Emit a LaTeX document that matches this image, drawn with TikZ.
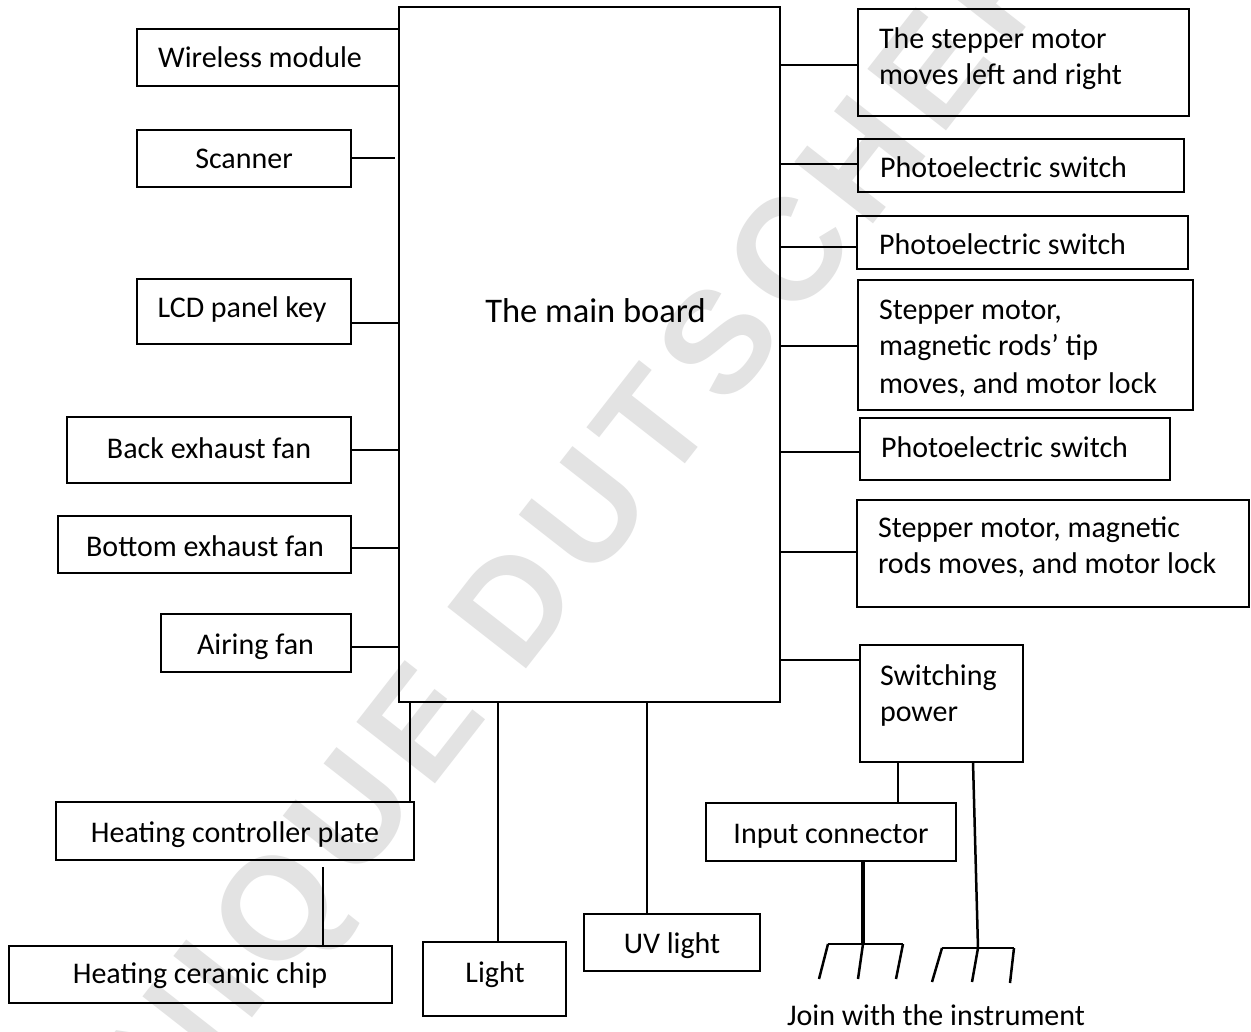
\documentclass[tikz,border=0pt]{standalone}
\usepackage{fontspec}
\setmainfont{Carlito}
\newfontfamily\wmfont{Liberation Sans}[LetterSpace=9]
\definecolor{wmgray}{RGB}{227,227,227}
\begin{document}
\begin{tikzpicture}[x=1pt,y=-1pt,
  box/.style={draw, line width=2.7pt, inner sep=0pt, outer sep=0pt, anchor=north west},
  conn/.style={line width=2.5pt},
  lbl/.style={font=\fontsize{30}{36.5}\selectfont, inner sep=0pt, outer sep=0pt},
  bigl/.style={font=\fontsize{34.5}{40}\selectfont, inner sep=0pt, outer sep=0pt},
  wm/.style={font=\wmfont\bfseries\fontsize{145}{150}\selectfont, text=wmgray, inner sep=0pt, outer sep=0pt, rotate=52}]
\useasboundingbox (0,0) rectangle (1251,1032);
\clip (0,0) rectangle (1251,1032);
\fill[white] (0,0) rectangle (1251,1032);
% watermark
\node[wm, anchor=base west] (wm2) at (520,676) {DUTSCHER};
\node[wm, anchor=base east] (wm1) at (489,715) {DOMINIQUE};
% main board
\node[box, minimum width=381pt, minimum height=695pt] (main) at (399,7) {};
\node[bigl, anchor=base] (maint) at (595.5,323) {The main board};
% left boxes
\node[box, minimum width=262pt, minimum height=57pt] (wmod) at (137,29) {};
\node[lbl, anchor=base] (wmodt) at (260,67.7) {Wireless module};
\node[box, minimum width=214pt, minimum height=57pt] (sc) at (137,130) {};
\node[lbl, anchor=base] (sct) at (244,169) {Scanner};
\node[box, minimum width=214pt, minimum height=65pt] (lcd) at (137,279) {};
\node[lbl, anchor=base] (lcdt) at (242,318) {LCD panel key};
\node[box, minimum width=284pt, minimum height=66pt] (bef) at (67,417) {};
\node[lbl, anchor=base] (beft) at (209,458) {Back exhaust fan};
\node[box, minimum width=293pt, minimum height=57pt] (botf) at (58,516) {};
\node[lbl, anchor=base] (botft) at (205,556) {Bottom exhaust fan};
\node[box, minimum width=190pt, minimum height=58pt] (af) at (161,614) {};
\node[lbl, anchor=base] (aft) at (255.5,654) {Airing fan};
% bottom-left boxes
\node[box, minimum width=358pt, minimum height=58pt] (hcp) at (56,802) {};
\node[lbl, anchor=base] (hcpt) at (235,842) {Heating controller plate};
\node[box, minimum width=383pt, minimum height=57pt] (hcc) at (9,946) {};
\node[lbl, anchor=base] (hcct) at (200,983) {Heating ceramic chip};
\node[box, minimum width=143pt, minimum height=74pt] (light) at (423,942) {};
\node[lbl, anchor=base] (lightt) at (495,982) {Light};
\node[box, minimum width=176pt, minimum height=57pt] (uv) at (584,914) {};
\node[lbl, anchor=base] (uvt) at (672,953) {UV light};
% right boxes
\node[box, minimum width=331pt, minimum height=107pt] (r1) at (858,9) {};
\node[lbl, anchor=base west] (r1a) at (879,49) {The stepper motor};
\node[lbl, anchor=base west] (r1b) at (879,85) {moves left and right};
\node[box, minimum width=326pt, minimum height=53pt] (r2) at (858,139) {};
\node[lbl, anchor=base west] (r2t) at (880,178) {Photoelectric switch};
\node[box, minimum width=331pt, minimum height=53pt] (r3) at (857,216) {};
\node[lbl, anchor=base west] (r3t) at (879,255) {Photoelectric switch};
\node[box, minimum width=335pt, minimum height=130pt] (r4) at (858,280) {};
\node[lbl, anchor=base west] (r4a) at (879,320) {Stepper motor,};
\node[lbl, anchor=base west] (r4b) at (879,356) {magnetic rods’ tip};
\node[lbl, anchor=base west] (r4c) at (879,393) {moves, and motor lock};
\node[box, minimum width=310pt, minimum height=62pt] (r5) at (860,418) {};
\node[lbl, anchor=base west] (r5t) at (881,457) {Photoelectric switch};
\node[box, minimum width=392pt, minimum height=107pt] (r6) at (857,500) {};
\node[lbl, anchor=base west] (r6a) at (878,537) {Stepper motor, magnetic};
\node[lbl, anchor=base west] (r6b) at (878,573) {rods moves, and motor lock};
\node[box, minimum width=163pt, minimum height=117pt] (sp) at (860,645) {};
\node[lbl, anchor=base west] (spa) at (880,685) {Switching};
\node[lbl, anchor=base west] (spb) at (880,721) {power};
\node[box, minimum width=250pt, minimum height=58pt] (ic) at (706,803) {};
\node[lbl, anchor=base] (ict) at (831,843) {Input connector};
\node[lbl, anchor=base] (join) at (936,1025) {Join with the instrument};
% left connectors
\coordinate (scend) at (395,158);
\draw[conn] (sc.east |- scend) -- (scend);
\draw[conn] (lcd.east |- 0,323) -- (main.west |- 0,323);
\draw[conn] (bef.east |- 0,450) -- (main.west |- 0,450);
\draw[conn] (botf.east |- 0,548) -- (main.west |- 0,548);
\draw[conn] (af.east |- 0,647) -- (main.west |- 0,647);
% right connectors
\draw[conn] (main.east |- 0,65) -- (r1.west |- 0,65);
\draw[conn] (main.east |- 0,164) -- (r2.west |- 0,164);
\draw[conn] (main.east |- 0,247) -- (r3.west |- 0,247);
\draw[conn] (main.east |- 0,346) -- (r4.west |- 0,346);
\draw[conn] (main.east |- 0,452) -- (r5.west |- 0,452);
\draw[conn] (main.east |- 0,552) -- (r6.west |- 0,552);
\draw[conn] (main.east |- 0,660) -- (sp.west |- 0,660);
% bottom connectors
\draw[conn] (main.south -| 410,0) -- (hcp.north -| 410,0);
\coordinate (hgap) at (323,867);
\draw[conn] (hgap) -- (hcc.north -| hgap);
\draw[conn] (main.south -| 498,0) -- (light.north -| 498,0);
\draw[conn] (main.south -| 647,0) -- (uv.north -| 647,0);
\draw[conn] (sp.south -| 898,0) -- (ic.north -| 898,0);
% plugs
\coordinate (p1) at (863,944);
\coordinate (p1a) at (828,944);
\coordinate (p1b) at (903,944);
\coordinate (p1x) at (819,979);
\coordinate (p1y) at (858,979);
\coordinate (p1z) at (896,979);
\draw[line width=3.5pt] (ic.south -| p1) -- (p1);
\draw[conn] (p1a) -- (p1b);
\draw[conn] (p1a) -- (p1x);
\draw[conn] (p1) -- (p1y);
\draw[conn] (p1b) -- (p1z);
\coordinate (p2) at (978,948);
\coordinate (p2a) at (942,948);
\coordinate (p2b) at (1014,948);
\coordinate (p2x) at (932,982);
\coordinate (p2y) at (972,982);
\coordinate (p2z) at (1010,983);
\draw[conn] (sp.south -| 973,0) -- (p2);
\draw[conn] (p2a) -- (p2b);
\draw[conn] (p2a) -- (p2x);
\draw[conn] (p2) -- (p2y);
\draw[conn] (p2b) -- (p2z);
\end{tikzpicture}
\end{document}
